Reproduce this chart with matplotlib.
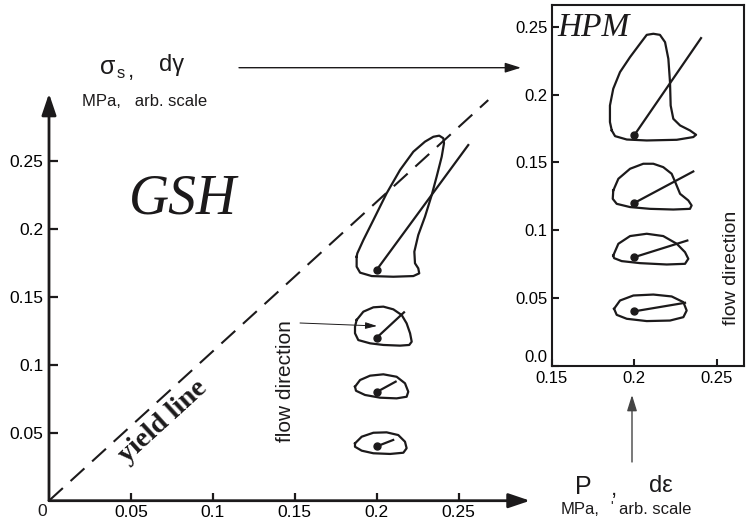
import numpy as np
import matplotlib
matplotlib.use('Agg')
import matplotlib.pyplot as plt

plt.rcParams['font.family'] = ['Liberation Sans', 'DejaVu Sans']

# ---- data ----
dot_x = [0.2, 0.2, 0.2, 0.2]
dot_y = [0.17, 0.12, 0.08, 0.04]

# GSH loops (main plot)
gsh_loop1_x = [0.1877, 0.1877, 0.1898, 0.1969, 0.2101, 0.2223, 0.2259, 0.2253, 0.2233, 0.2229, 0.2253, 0.2294, 0.2335,
               0.2365, 0.2396, 0.2410, 0.2406, 0.2381, 0.2345, 0.2294, 0.2223, 0.2142, 0.2060, 0.1979, 0.1918, 0.1881]
gsh_loop1_y = [0.1795, 0.1722, 0.1678, 0.1653, 0.1648, 0.1653, 0.1673, 0.1710, 0.1747, 0.1832, 0.1955, 0.2090, 0.2249,
               0.2384, 0.2531, 0.2630, 0.2667, 0.2686, 0.2678, 0.2642, 0.2568, 0.2434, 0.2262, 0.2065, 0.1918, 0.1820]
gsh_loop2_x = [0.1877, 0.1918, 0.1979, 0.2040, 0.2101, 0.2152, 0.2182, 0.2203, 0.2213, 0.2198, 0.2142, 0.2040, 0.1959,
               0.1887, 0.1867, 0.1867]
gsh_loop2_y = [0.1330, 0.1391, 0.1423, 0.1428, 0.1408, 0.1366, 0.1305, 0.1232, 0.1170, 0.1146, 0.1141, 0.1146, 0.1158,
               0.1182, 0.1232, 0.1280]
gsh_loop3_x = [0.1867, 0.1898, 0.1959, 0.2040, 0.2121, 0.2172, 0.2192, 0.2182, 0.2121, 0.2020, 0.1928, 0.1873]
gsh_loop3_y = [0.0839, 0.0888, 0.0920, 0.0930, 0.0912, 0.0864, 0.0802, 0.0765, 0.0753, 0.0758, 0.0778, 0.0809]
gsh_loop4_x = [0.1867, 0.1908, 0.1979, 0.2060, 0.2131, 0.2172, 0.2182, 0.2162, 0.2081, 0.1979, 0.1908, 0.1867]
gsh_loop4_y = [0.0422, 0.0471, 0.0500, 0.0503, 0.0483, 0.0434, 0.0386, 0.0353, 0.0344, 0.0349, 0.0368, 0.0397]
gsh_end_x = [0.2558, 0.2166, 0.2115, 0.2100]
gsh_end_y = [0.2617, 0.1386, 0.0876, 0.0447]

# HPM loops (inset)
hpm_loop1_x = [0.1864, 0.1884, 0.1955, 0.2076, 0.2258, 0.2358, 0.2375, 0.2338, 0.2278, 0.2237, 0.2221, 0.2217, 0.2207,
               0.2187, 0.2156, 0.2116, 0.2076, 0.2035, 0.1975, 0.1914, 0.1873, 0.1853, 0.1853]
hpm_loop1_y = [0.1736, 0.1694, 0.1669, 0.1662, 0.1667, 0.1687, 0.1704, 0.1736, 0.1773, 0.1822, 0.1920, 0.2093, 0.2265,
               0.2388, 0.2442, 0.2450, 0.2442, 0.2376, 0.2278, 0.2167, 0.2044, 0.1920, 0.1798]
hpm_loop2_x = [0.1873, 0.1904, 0.1975, 0.2055, 0.2116, 0.2176, 0.2227, 0.2253, 0.2278, 0.2328, 0.2348, 0.2338, 0.2237,
               0.2096, 0.1975, 0.1894, 0.1870]
hpm_loop2_y = [0.1292, 0.1379, 0.1453, 0.1490, 0.1490, 0.1465, 0.1416, 0.1342, 0.1268, 0.1219, 0.1182, 0.1157, 0.1152,
               0.1157, 0.1170, 0.1194, 0.1231]
hpm_loop3_x = [0.1873, 0.1904, 0.1975, 0.2076, 0.2176, 0.2258, 0.2308, 0.2328, 0.2308, 0.2197, 0.2035, 0.1924, 0.1878]
hpm_loop3_y = [0.0812, 0.0899, 0.0956, 0.0973, 0.0956, 0.0899, 0.0837, 0.0788, 0.0751, 0.0746, 0.0756, 0.0771, 0.0793]
hpm_loop4_x = [0.1878, 0.1914, 0.1995, 0.2116, 0.2227, 0.2298, 0.2318, 0.2298, 0.2217, 0.2076, 0.1955, 0.1894]
hpm_loop4_y = [0.0419, 0.0480, 0.0517, 0.0524, 0.0510, 0.0468, 0.0406, 0.0357, 0.0332, 0.0328, 0.0345, 0.0374]
hpm_end_x = [0.2405, 0.2358, 0.2322, 0.2308]
hpm_end_y = [0.2418, 0.1433, 0.0923, 0.0463]

main_xticks = [0.05, 0.1, 0.15, 0.2, 0.25]
main_xlabels = ['0.05', '0.1', '0.15', '0.2', '0.25']
main_yticks = [0.05, 0.1, 0.15, 0.2, 0.25]
main_ylabels = ['0.05', '0.1', '0.15', '0.2', '0.25']
ins_xticks = [0.15, 0.2, 0.25]
ins_xlabels = ['0.15', '0.2', '0.25']
ins_yticks = [0.0, 0.05, 0.1, 0.15, 0.2, 0.25]
ins_ylabels = ['0.0', '0.05', '0.1', '0.15', '0.2', '0.25']
yield_slope = 1.1
yield_x = [0.0, 0.268]

W, H = 746, 523
K = '#1c1a1b'


def fx(px):
    return px / W


def fy(py):
    return 1 - py / H


def closed(xs, ys):
    return list(xs) + [xs[0]], list(ys) + [ys[0]]


fig = plt.figure(figsize=(7.46, 5.23), dpi=100)

# ---- main GSH plot ----
ax = fig.add_axes([fx(49), fy(500.7), 0.3 * 1639 / W, 0.3 * 1359 / H])
ax.set_xlim(0, 0.3)
ax.set_ylim(0, 0.3)
ax.patch.set_visible(False)
for s in ax.spines.values():
    s.set_visible(False)

ax.annotate('', xy=(0.2935, 0), xytext=(0, 0), annotation_clip=False,
            arrowprops=dict(arrowstyle='-|>,head_length=0.65,head_width=0.22', lw=2, color=K,
                            mutation_scale=20, shrinkA=0, shrinkB=0))
ax.annotate('', xy=(0, 0.2996), xytext=(0, 0), annotation_clip=False,
            arrowprops=dict(arrowstyle='-|>,head_length=0.65,head_width=0.22', lw=2, color=K,
                            mutation_scale=20, shrinkA=0, shrinkB=0))

ax.set_xticks(main_xticks)
ax.set_xticklabels(main_xlabels)
ax.set_yticks(main_yticks)
ax.set_yticklabels(main_ylabels)
ax.tick_params(axis='x', direction='in', length=5.5, width=1.6, color=K, labelsize=12.5, pad=3)
ax.tick_params(axis='y', direction='in', length=6.5, width=1.6, color=K, labelsize=12.5, pad=4)

yx = np.array(yield_x)
ax.plot(yx, yield_slope * yx, color=K, lw=1.5, dashes=(9, 5), clip_on=False)

gsh_loops = [(gsh_loop1_x, gsh_loop1_y), (gsh_loop2_x, gsh_loop2_y),
             (gsh_loop3_x, gsh_loop3_y), (gsh_loop4_x, gsh_loop4_y)]
for i, (lx, ly) in enumerate(gsh_loops):
    cx, cy = closed(lx, ly)
    ax.plot(cx, cy, color=K, lw=1.6, solid_joinstyle='round')
    ax.plot([dot_x[i], gsh_end_x[i]], [dot_y[i], gsh_end_y[i]], color=K, lw=1.6)
ax.plot(dot_x, dot_y, 'o', color=K, ms=5)

# ---- inset HPM plot ----
ins = fig.add_axes([fx(551.7), fy(365.5), (744.3 - 551.7) / W, (365.5 - 5) / H])
ins.set_xlim(0.15, 0.15 + (744.3 - 551.7) / 1650)
ins.set_ylim(0, (365.5 - 5) / 1354)
for s in ins.spines.values():
    s.set_linewidth(1.5)
    s.set_color(K)
ins.set_xticks(ins_xticks)
ins.set_xticklabels(ins_xlabels)
ins.set_yticks(ins_yticks)
ins.set_yticklabels(ins_ylabels)
ins.tick_params(axis='both', direction='in', length=5, width=1.5, color=K, labelsize=12)
ins.tick_params(axis='x', pad=4)
ins.tick_params(axis='y', pad=3)
ins.get_yticklabels()[0].set_verticalalignment('bottom')

hpm_loops = [(hpm_loop1_x, hpm_loop1_y), (hpm_loop2_x, hpm_loop2_y),
             (hpm_loop3_x, hpm_loop3_y), (hpm_loop4_x, hpm_loop4_y)]
for i, (lx, ly) in enumerate(hpm_loops):
    cx, cy = closed(lx, ly)
    ins.plot(cx, cy, color=K, lw=1.6, solid_joinstyle='round')
    ins.plot([dot_x[i], hpm_end_x[i]], [dot_y[i], hpm_end_y[i]], color=K, lw=1.6)
ins.plot(dot_x, dot_y, 'o', color=K, ms=5)

# ---- texts ----
fig.text(fx(41.7), fy(511), '0', fontsize=12.5, ha='center', va='center', color=K)
fig.text(fx(182.5), fy(199), 'GSH', family='Liberation Serif', style='italic', fontsize=40,
         ha='center', va='center', color=K)
fig.text(fx(593), fy(28), 'HPM', family='Liberation Serif', style='italic', fontsize=24,
         ha='center', va='center', color=K)
fig.text(fx(163), fy(422), 'yield line', family='Liberation Serif', weight='bold', fontsize=20.5,
         rotation=42.4, rotation_mode='anchor', ha='center', va='center', color=K)
fig.text(fx(285.5), fy(381), 'flow direction', fontsize=15, rotation=90, ha='center', va='center', color=K)
fig.text(fx(732), fy(268), 'flow direction', fontsize=14, rotation=90, ha='center', va='center', color=K)

# sigma_s , dgamma label
fig.text(fx(108), fy(67), 'σ', fontsize=18, ha='center', va='center', color=K)
fig.text(fx(121), fy(74), 's', fontsize=12, ha='center', va='center', color=K)
fig.text(fx(131), fy(72), ',', fontsize=16, ha='center', va='center', color=K)
fig.text(fx(172), fy(65), 'dγ', fontsize=17, ha='center', va='center', color=K)
fig.text(fx(145), fy(102), 'MPa,   arb. scale', fontsize=12, ha='center', va='center', color=K)

# P , d epsilon label
fig.text(fx(583.5), fy(487), 'P', fontsize=18, ha='center', va='center', color=K)
fig.text(fx(614), fy(490), ',', fontsize=16, ha='center', va='center', color=K)
fig.text(fx(661), fy(486), 'dε', fontsize=17, ha='center', va='center', color=K)
fig.text(fx(580), fy(510), 'MPa,', fontsize=12, ha='center', va='center', color=K)
fig.text(fx(612), fy(507), "'", fontsize=10, ha='center', va='center', color=K)
fig.text(fx(655), fy(510), 'arb. scale', fontsize=12, ha='center', va='center', color=K)

# connecting arrows
fig_arrow = dict(arrowstyle='-|>,head_length=0.8,head_width=0.25', lw=1.0, color=K,
                 mutation_scale=12, shrinkA=0, shrinkB=0)
ax.annotate('', xy=(fx(521), fy(67.7)), xytext=(fx(239), fy(67.7)), xycoords='figure fraction',
            textcoords='figure fraction', annotation_clip=False, arrowprops=fig_arrow)
ax.annotate('', xy=(fx(632), fy(395)), xytext=(fx(632), fy(462)), xycoords='figure fraction',
            textcoords='figure fraction', annotation_clip=False,
            arrowprops=dict(fig_arrow, color='#444444'))
thin = dict(arrowstyle='-|>,head_length=0.7,head_width=0.2', lw=0.7, color=K,
            mutation_scale=10, shrinkA=0, shrinkB=0)
ax.annotate('', xy=(fx(377), fy(326)), xytext=(fx(300), fy(323)), xycoords='figure fraction',
            textcoords='figure fraction', annotation_clip=False, arrowprops=thin)
ax.annotate('', xy=(fx(658), fy(195)), xytext=(fx(714), fy(250)), xycoords='figure fraction',
            textcoords='figure fraction', annotation_clip=False, arrowprops=thin)

fig.savefig('out.png', dpi=100)
